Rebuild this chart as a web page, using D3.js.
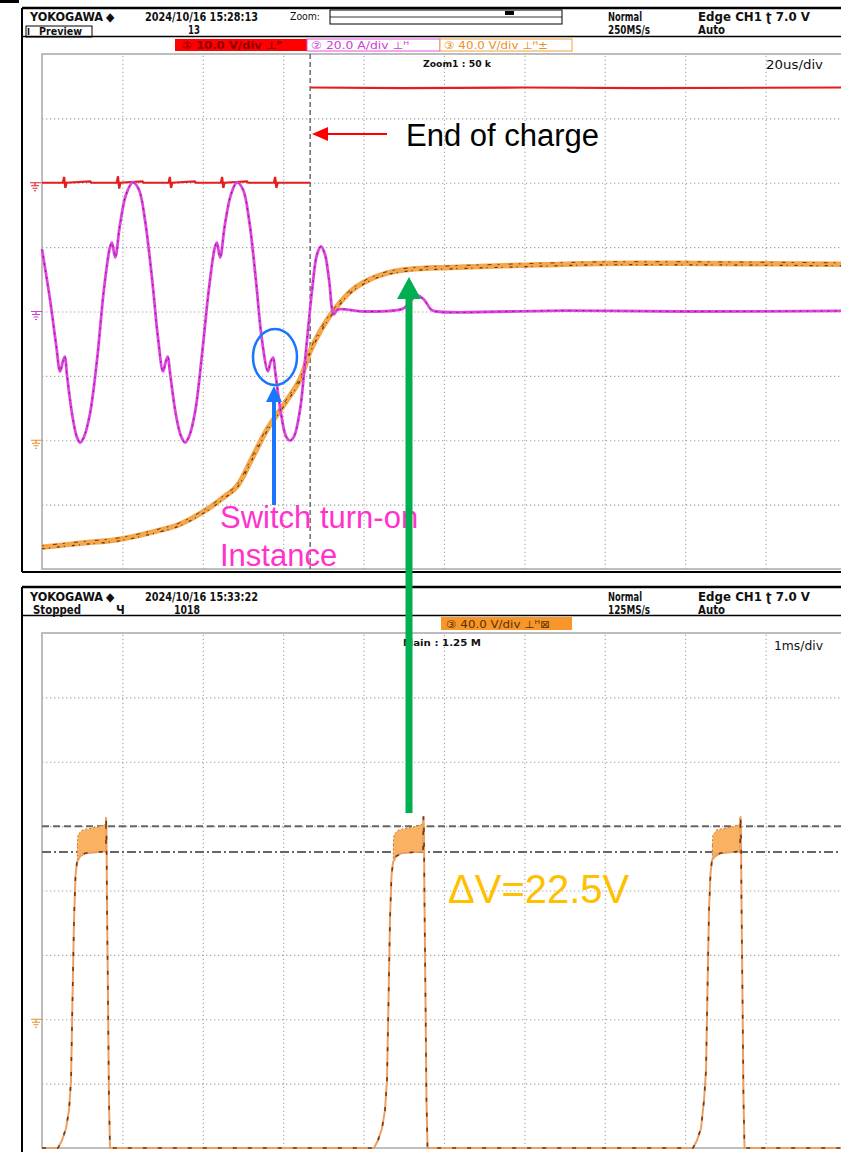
<!DOCTYPE html>
<html><head><meta charset="utf-8">
<script src="https://cdn.jsdelivr.net/npm/d3@7"></script>
<style>body{margin:0;background:#fff}svg{display:block}</style>
</head><body><svg id="c" width="841" height="1152"></svg>
<script>
// ---------------- DATA ----------------
// Top capture: time in µs (20 µs/div), trigger at 66.7 µs
const topTimeDivs = [0, 200];          // µs across 10 divisions
const triggerTime = 66.7;              // µs
// CH1 (red, 10 V/div): [µs, V]  (null = gap at the step)
const ch1Red = [[0,0],[5.2,0],[5.5,0.9],[5.8,-0.8],[6.1,0],[12,0.2],[12.3,0],[18.6,0],[18.9,1.0],[19.2,-0.9],[19.5,0],
  [25,0.2],[25.3,0],[31.5,0],[31.8,0.9],[32.1,-0.8],[32.4,0],[38,0.2],[38.3,0],[44.5,0],[44.8,0.9],[45.1,-0.8],[45.4,0],
  [51,0.2],[51.3,0],[57.7,0],[58.0,0.9],[58.3,-0.8],[58.6,0],[66.7,0],[66.7,null],[66.8,14.8],[90,14.7],[120,14.8],[150,14.7],[200,14.8]];
// CH2 (magenta, 20 A/div): [µs, A]
const ch2Current = [[0,19.3],[2.0,3.7],[3.5,-10.2],[4.5,-18.6],[5.2,-15.5],[5.7,-14.0],[6.2,-19.6],[7.5,-32.0],[8.7,-39.1],
  [9.5,-40.7],[10.4,-39.1],[11.9,-32.0],[13.7,-14.9],[15.4,6.8],[16.9,19.9],[17.4,21.4],[18.2,16.8],[19.4,27.0],[20.9,36.3],
  [22.6,40.1],[24.1,37.9],[25.6,28.6],[27.4,9.9],[28.9,-8.7],[30.1,-18.6],[30.8,-15.5],[31.3,-14.0],[31.8,-18.6],[33.3,-32.0],
  [34.6,-38.8],[35.6,-40.7],[36.6,-38.8],[38.1,-31.1],[39.8,-13.4],[41.5,6.8],[43.0,19.9],[43.5,21.4],[44.3,16.8],[45.5,27.0],
  [47.0,36.3],[48.5,40.1],[50.0,37.9],[51.5,28.6],[53.2,9.9],[54.7,-8.7],[56.2,-18.6],[56.9,-15.5],[57.5,-14.3],[58.0,-18.6],
  [59.5,-32.0],[60.7,-38.8],[61.7,-40.1],[62.7,-38.8],[64.2,-30.4],[65.7,-11.8],[67.2,6.8],[68.4,17.7],[69.4,20.2],[70.4,17.7],
  [71.4,9.9],[72.6,-0.9],[73.6,0.6],[80,0],[89.8,0.9],[91.6,3.1],[93.3,5.0],[95.0,3.7],[96.8,0.6],[98,0],[130,0.3],[160,0],[200,0.2]];
// CH3 (orange, 40 V/div): [µs, V]
const ch3Voltage = [[0,-66.5],[9.5,-64.0],[19.4,-61.5],[29.4,-55.9],[34.3,-52.2],[41.1,-42.9],[45.5,-34.8],[48.5,-28.6],
  [52.5,-9.9],[56.0,6.8],[59.9,21.1],[64.2,37.9],[66.7,55.3],[69.2,67.7],[72.6,80.7],[77.1,93.2],[81.6,100.0],[85.6,103.7],
  [91.6,106.2],[101.5,107.4],[118.9,108.7],[138.8,109.9],[163.7,109.9],[200,109.3]];

// Bottom capture: time in ms (1 ms/div), CH3 (orange, 40 V/div): [ms, V]
const bottomTimeDivs = [0, 10];
const mainVoltage = [[0,-80],
  [0.199,-80],[0.249,-75.2],[0.299,-67.7],[0.336,-56.5],[0.361,-37.9],[0.379,11.8],[0.398,61.5],[0.417,89.4],[0.435,97.5],[0.473,101.2],[0.535,103.1],
  [0.796,104.3],[0.796,125.5],[0.802,117.4],[0.808,73.9],[0.821,11.8],[0.833,-50.3],[0.846,-80],
  [4.129,-80],[4.179,-75.2],[4.229,-67.7],[4.266,-56.5],[4.291,-37.9],[4.310,11.8],[4.328,61.5],[4.347,89.4],[4.366,97.5],[4.403,101.2],[4.465,103.1],
  [4.739,104.3],[4.745,126.1],[4.751,117.4],[4.757,73.9],[4.770,11.8],[4.782,-50.3],[4.795,-80],
  [8.097,-80],[8.147,-75.2],[8.197,-67.7],[8.234,-50.3],[8.259,-31.7],[8.277,18.0],[8.296,67.7],[8.315,90.7],[8.333,98.8],[8.371,101.2],[8.433,103.1],
  [8.682,104.3],[8.688,126.1],[8.694,117.4],[8.700,73.9],[8.713,11.8],[8.725,-50.3],[8.738,-80],
  [10,-80]];
// plateau noise envelopes: [ms, low V, high V]
const plateau1 = [[0.440,98,108],[0.448,100,114.3],[0.473,101.2,116],[0.498,102.5,117.4],[0.597,103.5,118.6],[0.721,104,119.9],[0.790,104.3,121.5],[0.796,104.3,125.5]];
const plateau2 = [[4.370,98,108],[4.378,100,114.3],[4.403,101.2,116],[4.428,102.5,117.4],[4.527,103.5,118.6],[4.652,104,119.9],[4.733,104.3,121.5],[4.739,104.3,125.5]];
const plateau3 = [[8.338,98,108],[8.345,100,114.3],[8.371,101.2,116],[8.383,102.5,117.4],[8.483,103.5,118.6],[8.607,104,119.9],[8.676,104.3,121.5],[8.682,104.3,125.5]];
const cursorLevels = [120, 104];   // V

const topChannelLabels = ["① 10.0 V/div ⊥ᴾ", "② 20.0 A/div ⊥ᴴ", "③ 40.0 V/div ⊥ᴴ±"];
const bottomChannelLabels = ["③ 40.0 V/div ⊥ᴴ⊠"];

// ---------------- DRAW ----------------
const svg = d3.select("#c");
const HF = "'DejaVu Sans Condensed','DejaVu Sans',sans-serif";
const AF = "'Liberation Sans',Arial,sans-serif";

function txt(g, x, y, s, opt) {
  opt = opt || {};
  const t = g.append("text").attr("x", x).attr("y", y).text(s)
    .attr("font-family", opt.f || HF).attr("font-size", opt.size || 11)
    .attr("font-weight", opt.w || "bold").attr("fill", opt.fill || "#111");
  if (opt.len) t.attr("textLength", opt.len).attr("lengthAdjust", "spacingAndGlyphs");
  return t;
}

function panelFrame(y0, y1) {
  const g = svg.append("g");
  g.append("line").attr("x1", 22).attr("x2", 841).attr("y1", y0).attr("y2", y0).attr("stroke", "#000").attr("stroke-width", 2.5);
  g.append("line").attr("x1", 22).attr("x2", 22).attr("y1", y0).attr("y2", y1).attr("stroke", "#000").attr("stroke-width", 2);
  g.append("line").attr("x1", 22).attr("x2", 841).attr("y1", y1).attr("y2", y1).attr("stroke", "#000").attr("stroke-width", 2);
  return g;
}

function drawGrid(x, y) {
  const g = svg.append("g");
  const [yb, yt] = y.range();
  const [xl, xr] = x.range();
  const dom = x.domain();
  const step = (dom[1] - dom[0]) / 10;
  const xt = d3.range(1, 10).map(i => dom[0] + i * step);
  const gx = g.append("g").attr("transform", `translate(0,${yb})`)
    .call(d3.axisBottom(x).tickValues(xt).tickSize(-(yb - yt)).tickFormat(""));
  const gy = g.append("g").attr("transform", `translate(${xl},0)`)
    .call(d3.axisLeft(y).tickValues([-3,-2,-1,0,1,2,3]).tickSize(-(xr - xl)).tickFormat(""));
  [gx, gy].forEach(a => {
    a.select(".domain").remove();
    a.selectAll("line").attr("stroke", "#a4a4a4").attr("stroke-width", 1.1).attr("stroke-dasharray", "1.3,2.7");
  });
  g.append("rect").attr("x", xl).attr("y", yt).attr("width", xr - xl).attr("height", yb - yt)
    .attr("fill", "none").attr("stroke", "#a8a8a8").attr("stroke-width", 1.5);
  return g;
}

function gnd(x, y, color) {
  svg.append("path").attr("d", `M${x-5},${y}H${x+6}M${x},${y}V${y+3}M${x-4},${y+3}H${x+4}M${x-2.5},${y+5.5}H${x+2.5}M${x-1},${y+8}H${x+1}`)
    .attr("stroke", color).attr("stroke-width", 1.2).attr("fill", "none");
}

// ---- top panel ----
panelFrame(8, 572);
svg.append("path").attr("d", "M0,0H19V3H0Z").attr("fill", "#000");
svg.append("line").attr("x1", 22).attr("x2", 841).attr("y1", 36.5).attr("y2", 36.5).attr("stroke", "#000").attr("stroke-width", 1.3);
const th = svg.append("g");
txt(th, 30, 21, "YOKOGAWA", {len: 73, size: 12});
txt(th, 106, 21, "◆", {size: 12, w: "normal"});
txt(th, 145, 21, "2024/10/16 15:28:13", {len: 113, size: 12});
txt(th, 188, 34, "13", {len: 12, size: 12});
th.append("rect").attr("x", 26).attr("y", 26).attr("width", 66).attr("height", 11).attr("fill", "none").attr("stroke", "#000").attr("stroke-width", 1);
txt(th, 27, 35, "I", {size: 9});
txt(th, 39, 35, "Preview", {len: 43, size: 11});
txt(th, 290, 20, "Zoom:", {len: 30, size: 11, w: "normal"});
th.append("rect").attr("x", 330).attr("y", 10).attr("width", 232).attr("height", 14).attr("fill", "none").attr("stroke", "#000").attr("stroke-width", 1);
th.append("line").attr("x1", 330).attr("x2", 562).attr("y1", 17).attr("y2", 17).attr("stroke", "#000").attr("stroke-width", 0.8);
th.append("rect").attr("x", 505).attr("y", 11).attr("width", 9).attr("height", 4).attr("fill", "#000");
txt(th, 608, 21, "Normal", {len: 34, size: 12});
txt(th, 608, 34, "250MS/s", {len: 42, size: 12});
txt(th, 698, 21, "Edge CH1 ʈ 7.0 V", {len: 112, size: 12});
txt(th, 698, 34, "Auto", {len: 27, size: 12});
// channel labels
th.append("rect").attr("x", 175).attr("y", 39).attr("width", 132).attr("height", 12).attr("fill", "#ff0000");
txt(th, 182, 49, topChannelLabels[0], {size: 10.5, fill: "#8c0000", len: 100});
th.append("rect").attr("x", 307).attr("y", 39).attr("width", 133).attr("height", 12).attr("fill", "#fff").attr("stroke", "#e050e0").attr("stroke-width", 1);
txt(th, 311, 49, topChannelLabels[1], {size: 10.5, fill: "#d040d0", w: "normal", len: 98});
th.append("rect").attr("x", 440).attr("y", 39).attr("width", 132).attr("height", 12).attr("fill", "#fff").attr("stroke", "#f4a040").attr("stroke-width", 1);
txt(th, 444, 49, topChannelLabels[2], {size: 10.5, fill: "#e8902a", w: "normal", len: 104});

const xT = d3.scaleLinear().domain(topTimeDivs).range([42, 846]);
const yT = d3.scaleLinear().domain([-4, 4]).range([569, 54]);
drawGrid(xT, yT);
txt(svg, 423, 67, "Zoom1 : 50 k", {size: 9, len: 68});
txt(svg, 766, 69, "20us/div", {size: 12, w: "normal", len: 57});

// trigger dashed line
svg.append("line").attr("x1", xT(triggerTime)).attr("x2", xT(triggerTime)).attr("y1", 54).attr("y2", 569)
  .attr("stroke", "#555").attr("stroke-width", 1.3).attr("stroke-dasharray", "5,3");

gnd(35, yT(2), "#e02020");
gnd(36, yT(0), "#d040d0");
gnd(36, yT(-2), "#e8902a");

const redLine = d3.line().defined(d => d[1] !== null).x(d => xT(d[0])).y(d => yT(d[1] / 10 + 2));
const magLine = d3.line().x(d => xT(d[0])).y(d => yT(d[1] / 20)).curve(d3.curveCatmullRom.alpha(0.5));
const oraLine = d3.line().x(d => xT(d[0])).y(d => yT(d[1] / 40 - 2)).curve(d3.curveCatmullRom.alpha(0.5));

svg.append("path").attr("d", redLine(ch1Red)).attr("fill", "none").attr("stroke", "#e41e1e").attr("stroke-width", 2.2);
svg.append("path").attr("d", oraLine(ch3Voltage)).attr("fill", "none").attr("stroke", "#f5a74c").attr("stroke-width", 5.5);
svg.append("path").attr("d", oraLine(ch3Voltage)).attr("fill", "none").attr("stroke", "#5b3410").attr("stroke-width", 1.2)
  .attr("stroke-dasharray", "3,4,1,7").attr("transform", "translate(0,1.5)");
svg.append("path").attr("d", oraLine(ch3Voltage)).attr("fill", "none").attr("stroke", "#6b3e14").attr("stroke-width", 1)
  .attr("stroke-dasharray", "2,9,4,6").attr("transform", "translate(0,-1.5)");
svg.append("path").attr("d", magLine(ch2Current)).attr("fill", "none").attr("stroke", "#e044e0").attr("stroke-width", 2.8);
svg.append("path").attr("d", magLine(ch2Current)).attr("fill", "none").attr("stroke", "#7a1a7a").attr("stroke-width", 1).attr("stroke-dasharray", "2,5");

// ---- bottom panel ----
panelFrame(587, 1160);
svg.append("line").attr("x1", 22).attr("x2", 841).attr("y1", 615.5).attr("y2", 615.5).attr("stroke", "#000").attr("stroke-width", 1.3);
const bh = svg.append("g");
txt(bh, 30, 601, "YOKOGAWA", {len: 73, size: 12});
txt(bh, 106, 601, "◆", {size: 12, w: "normal"});
txt(bh, 145, 601, "2024/10/16 15:33:22", {len: 113, size: 12});
txt(bh, 33, 614, "Stopped", {len: 48, size: 12});
txt(bh, 116, 614, "Ч", {size: 12});
txt(bh, 174, 614, "1018", {len: 26, size: 12});
txt(bh, 608, 601, "Normal", {len: 34, size: 12});
txt(bh, 608, 614, "125MS/s", {len: 42, size: 12});
txt(bh, 698, 601, "Edge CH1 ʈ 7.0 V", {len: 112, size: 12});
txt(bh, 698, 614, "Auto", {len: 27, size: 12});
bh.append("rect").attr("x", 441).attr("y", 617).attr("width", 131).attr("height", 13).attr("fill", "#f7962a");
txt(bh, 446, 628, bottomChannelLabels[0], {size: 10.5, fill: "#5a3000", w: "normal", len: 104});

const xB = d3.scaleLinear().domain(bottomTimeDivs).range([42, 846]);
const yB = d3.scaleLinear().domain([-4, 4]).range([1148, 633]);
drawGrid(xB, yB);
txt(svg, 403, 646, "Main : 1.25 M", {size: 9, len: 78});
txt(svg, 774, 650, "1ms/div", {size: 12, w: "normal", len: 49});
gnd(36, yB(-2), "#e8902a");

// cursors
svg.append("line").attr("x1", 42).attr("x2", 846).attr("y1", yB(cursorLevels[0] / 40 - 2)).attr("y2", yB(cursorLevels[0] / 40 - 2))
  .attr("stroke", "#666").attr("stroke-width", 2).attr("stroke-dasharray", "7,4");
svg.append("line").attr("x1", 42).attr("x2", 846).attr("y1", yB(cursorLevels[1] / 40 - 2)).attr("y2", yB(cursorLevels[1] / 40 - 2))
  .attr("stroke", "#666").attr("stroke-width", 2).attr("stroke-dasharray", "9,3,2,3");

const pArea = d3.area().x(d => xB(d[0])).y0(d => yB(d[1] / 40 - 2)).y1(d => yB(d[2] / 40 - 2)).curve(d3.curveMonotoneX);
[plateau1, plateau2, plateau3].forEach(p => {
  svg.append("path").attr("d", pArea(p)).attr("fill", "#f9b262").attr("stroke", "#c9762a").attr("stroke-width", 1).attr("stroke-dasharray", "2,2");
});
const bLine = d3.line().x(d => xB(d[0])).y(d => yB(d[1] / 40 - 2));
svg.append("path").attr("d", bLine(mainVoltage)).attr("fill", "none").attr("stroke", "#eda064").attr("stroke-width", 2);
svg.append("path").attr("d", bLine(mainVoltage)).attr("fill", "none").attr("stroke", "#6b3a1a").attr("stroke-width", 1.6).attr("stroke-dasharray", "4,11");

// ---- annotations ----
// End of charge
svg.append("line").attr("x1", 326).attr("x2", 387).attr("y1", 134).attr("y2", 134).attr("stroke", "#ff0000").attr("stroke-width", 2);
svg.append("path").attr("d", "M312,134L328,127L328,141Z").attr("fill", "#ff0000");
txt(svg, 406, 146, "End of charge", {f: AF, size: 31, w: "normal", fill: "#000"});
// switch turn-on
svg.append("ellipse").attr("cx", 275).attr("cy", 357).attr("rx", 22).attr("ry", 28).attr("fill", "none").attr("stroke", "#1a75ff").attr("stroke-width", 2.5);
svg.append("line").attr("x1", 274).attr("x2", 274).attr("y1", 505).attr("y2", 398).attr("stroke", "#1a75ff").attr("stroke-width", 4);
svg.append("path").attr("d", "M274,386L282,402L266,402Z").attr("fill", "#1a75ff");
txt(svg, 220, 528, "Switch turn-on", {f: AF, size: 31, w: "normal", fill: "#ff33cc"});
txt(svg, 220, 566, "Instance", {f: AF, size: 31, w: "normal", fill: "#ff33cc"});
// delta V
txt(svg, 448, 903, "ΔV=22.5V", {f: AF, size: 40, w: "normal", fill: "#ffc000"});
// green arrow
svg.append("line").attr("x1", 409).attr("x2", 409).attr("y1", 813).attr("y2", 296).attr("stroke", "#00b050").attr("stroke-width", 7);
svg.append("path").attr("d", "M409,277L421,299L397,299Z").attr("fill", "#00b050");
</script></body></html>
